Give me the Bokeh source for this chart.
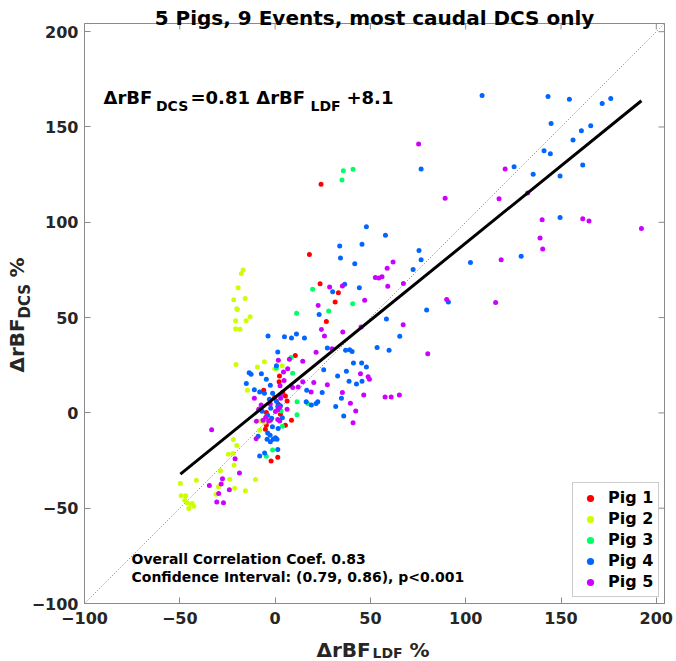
import numpy as np
from bokeh.plotting import figure
from bokeh.models import Range1d, Label, Legend, LegendItem, FixedTicker
from bokeh.embed import file_html
from bokeh.resources import INLINE

# ---------------- data ----------------
pig1_x = [24.1, 18.0, 23.6, 33.2, 31.5, 26.9, 10.6, 2.3, 2.1, -6.0, 4.0, 5.4, -0.2, 6.3, 1.6, -4.6, 2.8, -2.5, 8.6, -4.6, 5.4, -5.1, 1.4, -2.1]
pig1_y = [120.0, 83.1, 67.7, 63.0, 58.2, 47.9, 30.1, 19.4, 16.3, 11.9, 10.8, 8.9, 8.2, 6.3, 4.7, 0.2, -0.7, -3.8, -3.8, -6.3, -6.5, -8.6, -23.3, -25.2]

pig2_x = [-16.8, -17.7, -19.4, -21.7, -15.7, -20.1, -19.8, -13.1, -20.7, -15.2, -20.7, -18.4, -20.5, -5.6, -9.3, -0.2, 3.7, -14.5, -7.7, -5.6, -8.1, -21.9, -20.1, -24.5, -22.2, -21.5, -28.7, -23.8, -10.3, -41.3, -29.7, -21.2, -15.6, -31.0, -43.5, -42.7, -49.7, -49.3, -46.9, -47.4, -46.2, -44.1, -45.3]
pig2_y = [75.0, 73.1, 65.6, 59.3, 60.0, 54.7, 54.2, 50.5, 48.3, 48.4, 44.2, 43.9, 25.4, 26.8, 24.1, 23.1, 24.7, 11.9, -4.2, -4.9, -9.1, -14.0, -17.1, -21.7, -21.3, -27.3, -30.4, -34.8, -35.0, -35.3, -38.7, -39.5, -40.8, -42.7, -47.6, -49.0, -37.1, -43.5, -43.5, -45.8, -47.1, -47.9, -50.2]

pig3_x = [35.8, 40.9, 35.1, 19.7, 40.7, 28.1, 11.3, 8.4, 0.7, 9.2, 11.5, 17.1, 11.5, 3.8, -1.3, -4.6, 3.1]
pig3_y = [127.0, 127.8, 122.2, 64.9, 57.2, 53.4, 52.3, 29.0, 23.5, 20.8, 5.9, 4.9, -1.0, -7.0, -19.4, -22.7, 1.0]

pig4_x = [108.6, 143.2, 154.4, 171.6, 176.1, 144.8, 165.6, 160.7, 156.3, 141.1, 144.4, 125.4, 135.4, 149.5, 161.4, 76.6, 149.5, 129.1, 102.5, 57.9, 75.5, 76.6, 72.4, 79.5, 90.9, 58.4, 65.4,
          47.9, 33.9, 45.6, 34.3, 41.8, 36.5, 44.2, 30.2, 23.1, -3.7, 4.9, 8.6, 11.2, 15.4, 1.4, 27.4, 37.0, 39.1, 40.4, 53.5, 59.8, 41.1, 45.4, 47.9, 32.8, 37.4, 38.8, 42.7, 45.6, 25.5, 16.6, 24.7, 34.8, 16.3, 19.0, 21.5, 22.4, 31.8, 36.0,
          -13.6, -12.6, -7.2, -4.6, -15.1, -2.5, 0.7, -10.9, -8.1, -5.6, -1.3, -3.0, 0.7, 2.8, 1.4, -2.3, -6.8, -3.9, -1.8, 3.8, -1.4, 1.6, -3.9, -2.6, 0.2, -1.0, -4.2, -2.5, 1.0, 1.4, -5.5, -8.1, -8.9]
pig4_y = [166.5, 166.0, 164.6, 162.3, 164.9, 151.8, 150.7, 148.0, 143.2, 137.6, 135.9, 129.2, 125.2, 124.3, 130.0, 128.0, 102.5, 82.2, 78.9, 93.2, 85.2, 80.4, 75.2, 54.0, 58.2, 49.3, 40.2,
          97.6, 87.6, 88.5, 81.3, 78.3, 67.5, 65.6, 63.6, 51.6, 40.4, 40.0, 39.3, 41.4, 39.3, 32.0, 34.1, 32.9, 33.1, 32.2, 34.3, 32.9, 26.2, 26.2, 24.1, 19.3, 21.9, 16.6, 15.1, 16.6, 22.7, 11.9, 10.7, 7.7, 5.9, 4.2, 4.9, 5.8, 3.3, -1.6,
          21.1, 20.3, 20.6, 17.7, 15.4, 14.5, 24.7, 12.2, 11.0, 10.3, 10.3, 7.2, 6.1, 3.7, 3.3, 2.5, 0.9, -1.2, -2.8, -2.5, -7.3, -8.2, -10.5, -11.7, -13.0, -13.8, -13.8, -15.2, -13.8, -19.2, -21.0, -22.6, -12.2]

pig5_x = [75.3, 89.2, 120.7, 117.5, 132.5, 140.1, 161.4, 164.7, 192.2, 139.0, 140.4, 118.6, 90.0, 115.7, 67.2, 61.9, 58.8, 56.1, 59.1, 67.3,
          52.6, 54.4, 28.6, 35.3, 47.0, 22.6, 24.3, 35.5, 25.9, 45.1, 21.5, 29.9, 14.5, 14.5, 20.3, 27.4, 44.8, 48.8, 49.5, 18.9,
          35.3, 46.5, 57.7, 60.9, 65.2, 39.5, 42.3, 80.1, 40.9, 7.5, 1.7, 6.6, 4.4, 2.6, 4.7, 9.2, 12.1, -10.9, 2.9, -7.3,
          -8.6, -9.8, 2.8, 2.4, 1.4, 0.2, -4.9, 6.3, 1.4, 2.4, -6.3, -33.3, -21.0, -18.7, -27.6, -28.3, -34.5, -24.0, -29.6, -30.6,
          -27.1, -2.5, -3.4, -10.0]
pig5_y = [141.1, 112.6, 127.9, 112.3, 115.4, 101.3, 101.9, 100.7, 96.7, 91.7, 86.0, 80.3, 59.5, 57.9, 46.2, 79.2, 75.9, 71.4, 66.5, 67.9,
          71.0, 70.8, 66.1, 66.6, 59.1, 56.3, 43.7, 42.5, 40.4, 45.1, 31.8, 33.7, 27.1, 16.3, 15.9, 14.8, 20.6, 19.0, 17.7, 11.0,
          10.7, 9.4, 8.4, 8.4, 9.4, 5.1, 1.0, 31.0, -5.2, 28.2, 27.6, 23.1, 21.5, 14.2, 17.0, 13.3, 13.6, 7.7, 7.7, 4.2,
          1.9, -4.4, 9.4, 2.8, 1.6, 0.7, -2.3, 1.9, -3.5, -4.2, -3.8, -8.8, -24.1, -31.5, -34.5, -37.3, -38.1, -40.3, -42.3, -46.7,
          -47.2, 4.7, -4.2, -13.5]

pig_names = ["Pig 1", "Pig 2", "Pig 3", "Pig 4", "Pig 5"]
pig_colors = ["#ff0000", "#ccff00", "#00ff66", "#0066ff", "#cc00ff"]
fit_slope = 0.81
fit_intercept = 8.1
axis_ticks = [-100, -50, 0, 50, 100, 150, 200]

title_text = "5 Pigs, 9 Events, most caudal DCS only"
stat_line1 = "Overall Correlation Coef. 0.83"
stat_line2 = "Confidence Interval: (0.79, 0.86), p<0.001"

# ---------------- layout constants ----------------
W, H = 676, 661
X_MIN, X_MAX = -100, 204.3          # axes box limits
Y_MIN, Y_MAX = -100, 204.3
BOX_PX = 580                        # box size in pixels
SCALE = BOX_PX / (X_MAX - X_MIN)    # px per data unit
IMG_LEFT, IMG_BOTTOM = 84, 603      # box lower-left corner in page pixels

def dx(px):
    return X_MIN + (px - IMG_LEFT) / SCALE

def dy(py):
    return Y_MIN + (IMG_BOTTOM - py) / SCALE

FONT = "DejaVu Sans"
AXIS_COLOR = "#8a8a8a"
TEXT_COLOR = "#262626"

# the frame spans the whole canvas; the axes box is drawn with fixed-location axes
p = figure(width=W, height=H, x_range=Range1d(dx(0), dx(W)), y_range=Range1d(dy(H), dy(0)),
           min_border=0, output_backend="svg", toolbar_location=None, title=None)
p.grid.visible = False
p.outline_line_color = None
p.background_fill_color = "white"
p.border_fill_color = "white"

p.xaxis.fixed_location = Y_MIN
p.xaxis.bounds = (X_MIN, X_MAX)
p.yaxis.fixed_location = X_MIN
p.yaxis.bounds = (Y_MIN, Y_MAX)
for ax in (p.xaxis[0], p.yaxis[0]):
    ax.ticker = FixedTicker(ticks=axis_ticks)
    ax.axis_line_color = AXIS_COLOR
    ax.major_tick_line_color = AXIS_COLOR
    ax.major_tick_in = 6
    ax.major_tick_out = 0
    ax.minor_tick_line_color = None
    ax.major_label_text_font = FONT
    ax.major_label_text_font_style = "bold"
    ax.major_label_text_font_size = "16px"
    ax.major_label_text_color = TEXT_COLOR
p.xaxis[0].major_label_standoff = 8
p.yaxis[0].major_label_standoff = 6

# top and right edges of the box with inward ticks
p.line([X_MIN, X_MAX, X_MAX], [Y_MAX, Y_MAX, Y_MIN], line_color=AXIS_COLOR, line_width=1)
tick_len = 6 / SCALE
n_t = len(axis_ticks)
p.segment(x0=axis_ticks, y0=[Y_MAX] * n_t, x1=axis_ticks, y1=[Y_MAX - tick_len] * n_t,
          line_color=AXIS_COLOR, line_width=1)
p.segment(x0=[X_MAX] * n_t, y0=axis_ticks, x1=[X_MAX - tick_len] * n_t, y1=axis_ticks,
          line_color=AXIS_COLOR, line_width=1)

# identity line
p.line([X_MIN, X_MAX], [Y_MIN, Y_MAX], line_color="#7a7a7a", line_width=1, line_dash="1 2")

# scatter per pig
series = [(pig1_x, pig1_y), (pig2_x, pig2_y), (pig3_x, pig3_y), (pig4_x, pig4_y), (pig5_x, pig5_y)]
renderers = []
for (xs, ys), col in zip(series, pig_colors):
    r = p.scatter(xs, ys, size=5, marker="circle", fill_color=col, line_color=None)
    renderers.append(r)

# regression line
all_x = np.concatenate([np.asarray(s[0]) for s in series])
fx = np.array([all_x.min(), all_x.max()])
p.line(fx, fit_slope * fx + fit_intercept, line_color="black", line_width=3)

legend = Legend(items=[LegendItem(label=n, renderers=[r]) for n, r in zip(pig_names, renderers)],
                location=(572, H - 597), padding=5, spacing=2, label_height=18, glyph_height=18,
                glyph_width=24, label_standoff=6, label_text_font=FONT, label_text_font_style="bold",
                label_text_font_size="16px", label_text_color="black", border_line_color="#9a9a9a",
                border_line_width=1, background_fill_color="white", background_fill_alpha=1.0)
p.add_layout(legend)

def lab(text, px, py, size, angle=0.0, align="left", color="black"):
    p.add_layout(Label(x=dx(px), y=dy(py), text=text, text_font=FONT, text_font_style="bold",
                       text_font_size=f"{size}px", text_baseline="alphabetic", text_align=align,
                       angle=angle, text_color=color))

# title
lab(title_text, 374, 17.5, 20, align="center")
# equation
lab("\u0394rBF", 103, 96.7, 18)
lab("DCS", 155.5, 105, 14)
lab("=0.81 \u0394rBF", 190, 96.7, 18)
lab("LDF", 310, 105, 14)
lab("+8.1", 346, 96.7, 18)
# stats text
lab(stat_line1, 131, 558, 14)
lab(stat_line2, 131, 576, 14)
# x label
lab("\u0394rBF", 316, 649, 20, color=TEXT_COLOR)
lab("LDF", 372, 652.5, 14, color=TEXT_COLOR)
lab("%", 409, 649, 20, color=TEXT_COLOR)
# y label (rotated)
lab("\u0394rBF", 16, 372, 20, angle=np.pi / 2, color=TEXT_COLOR)
lab("DCS", 24, 318, 15, angle=np.pi / 2, color=TEXT_COLOR)
lab("%", 16, 277, 20, angle=np.pi / 2, color=TEXT_COLOR)

open("out.html", "w").write(file_html(p, INLINE))
